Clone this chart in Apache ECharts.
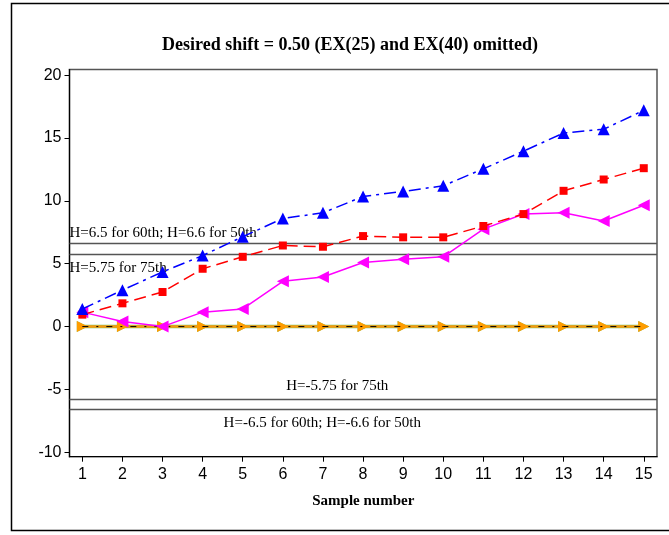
<!DOCTYPE html>
<html>
<head>
<meta charset="utf-8">
<title>Desired shift = 0.50</title>
<script src="https://cdn.jsdelivr.net/npm/echarts@6/dist/echarts.min.js"></script>
<style>
  html, body { margin: 0; padding: 0; background: #ffffff; }
  #chart { width: 669px; height: 535px; }
</style>
</head>
<body>
<div id="chart"></div>
<script>
// Sample numbers along the horizontal axis
const samples = [1, 2, 3, 4, 5, 6, 7, 8, 9, 10, 11, 12, 13, 14, 15];

// CUSUM statistics per sample
const blueSeries    = [1.4, 2.9, 4.35, 5.65, 7.15, 8.6, 9.05, 10.35, 10.75, 11.2, 12.55, 13.95, 15.4, 15.7, 17.2];
const redSeries     = [0.95, 1.85, 2.75, 4.6, 5.55, 6.45, 6.35, 7.2, 7.1, 7.1, 8.0, 8.95, 10.8, 11.7, 12.6];
const magentaSeries = [1.15, 0.4, 0.0, 1.15, 1.4, 3.6, 3.95, 5.1, 5.35, 5.55, 7.75, 8.95, 9.05, 8.4, 9.65];
const greenSeries   = [0, 0, 0, 0, 0, 0, 0, 0, 0, 0, 0, 0, 0, 0, 0];
const blackSeries   = [0, 0, 0, 0, 0, 0, 0, 0, 0, 0, 0, 0, 0, 0, 0];
const orangeSeries  = [0, 0, 0, 0, 0, 0, 0, 0, 0, 0, 0, 0, 0, 0, 0];

// Decision limits and their captions
const limitValues = [6.6, 5.75, -5.75, -6.6];
const limitLabels = [
  'H=6.5 for 60th; H=6.6 for 50th',
  'H=5.75 for 75th',
  'H=-5.75 for 75th',
  'H=-6.5 for 60th; H=-6.6 for 50th'
];

// Axis tick labels
const yTicks = [-10, -5, 0, 5, 10, 15, 20];
const xTicks = samples;

const pairs = vals => samples.map((s, i) => [s, vals[i]]);

const serif = "'Liberation Serif', 'Times New Roman', serif";
const sans = "'Liberation Sans', Arial, sans-serif";

const limitLabelStyle = [
  { position: 'insideStartTop', distance: [0, 3] },
  { position: 'insideStartBottom', distance: [0, 6] },
  { position: 'insideMiddleTop', distance: [0, 5], offset: [-26, 0] },
  { position: 'insideMiddleBottom', distance: [0, 6], offset: [-41, 0] }
];

const chart = echarts.init(document.getElementById('chart'), null, { renderer: 'canvas' });

chart.setOption({
  animation: false,
  backgroundColor: '#ffffff',
  title: {
    text: 'Desired shift = 0.50 (EX(25) and EX(40) omitted)',
    left: 345,
    top: 31,
    textAlign: 'center',
    textStyle: { fontFamily: serif, fontWeight: 'bold', fontSize: 18, color: '#000' }
  },
  graphic: [{
    type: 'rect',
    shape: { x: 11.5, y: 3.5, width: 700, height: 527 },
    style: { fill: 'none', stroke: '#000', lineWidth: 1.5 },
    silent: true
  }],
  grid: {
    left: 69.5, right: 12, top: 69.5, bottom: 78.3,
    show: true, borderColor: '#555', borderWidth: 1.5, backgroundColor: 'transparent'
  },
  xAxis: {
    type: 'value',
    min: 0.68, max: 15.33,
    name: 'Sample number',
    nameLocation: 'middle',
    nameGap: 37,
    nameTextStyle: { fontFamily: serif, fontWeight: 'bold', fontSize: 15, color: '#000' },
    axisLine: { show: true, onZero: false, lineStyle: { color: '#000', width: 1.2 } },
    axisTick: { show: true, length: 5, customValues: xTicks, lineStyle: { color: '#000' } },
    axisLabel: { customValues: xTicks, margin: 10, fontFamily: sans, fontSize: 16, color: '#000' },
    splitLine: { show: false }
  },
  yAxis: {
    type: 'value',
    min: -10.35, max: 20.45,
    axisLine: { show: true, onZero: false, lineStyle: { color: '#000', width: 1.2 } },
    axisTick: { show: true, length: 5, customValues: yTicks, lineStyle: { color: '#000' } },
    axisLabel: { customValues: yTicks, margin: 8, fontFamily: sans, fontSize: 16, color: '#000' },
    splitLine: { show: false }
  },
  series: [
    {
      name: 'limits',
      type: 'line',
      data: [],
      silent: true,
      markLine: {
        silent: true,
        symbol: 'none',
        lineStyle: { color: '#555', width: 1.3, type: 'solid' },
        data: limitValues.map((v, i) => ({
          yAxis: v,
          label: Object.assign({
            show: true,
            formatter: limitLabels[i],
            fontFamily: serif,
            fontSize: 15,
            color: '#000'
          }, limitLabelStyle[i])
        }))
      }
    },
    {
      name: 'green',
      type: 'line',
      data: pairs(greenSeries),
      symbol: 'triangle', symbolSize: 11, symbolRotate: -90,
      itemStyle: { color: '#6dbf5f' },
      lineStyle: { color: '#79c46a', width: 3.5 },
      z: 2
    },
    {
      name: 'orange',
      type: 'line',
      data: pairs(orangeSeries),
      symbol: 'triangle', symbolSize: 11, symbolRotate: -90,
      itemStyle: { color: '#ff9c00' },
      lineStyle: { color: '#f59a10', width: 2.5 },
      z: 3
    },
    {
      name: 'black',
      type: 'line',
      data: pairs(blackSeries),
      showSymbol: false,
      lineStyle: { color: '#000', width: 1, type: [6, 8, 2, 8] },
      z: 4
    },
    {
      name: 'magenta',
      type: 'line',
      data: pairs(magentaSeries),
      symbol: 'triangle', symbolSize: 12, symbolRotate: 90,
      itemStyle: { color: '#ff00ff' },
      lineStyle: { color: '#ff00ff', width: 1.5 },
      z: 5
    },
    {
      name: 'red',
      type: 'line',
      data: pairs(redSeries),
      symbol: 'rect', symbolSize: 8,
      itemStyle: { color: '#ff0000' },
      lineStyle: { color: '#ff0000', width: 1.5, type: [12, 6] },
      z: 6
    },
    {
      name: 'blue',
      type: 'line',
      data: pairs(blueSeries),
      symbol: 'triangle', symbolSize: 12,
      itemStyle: { color: '#0000ff' },
      lineStyle: { color: '#0000ff', width: 1.5, type: [12, 5, 3, 5] },
      z: 7
    }
  ]
});
</script>
</body>
</html>
